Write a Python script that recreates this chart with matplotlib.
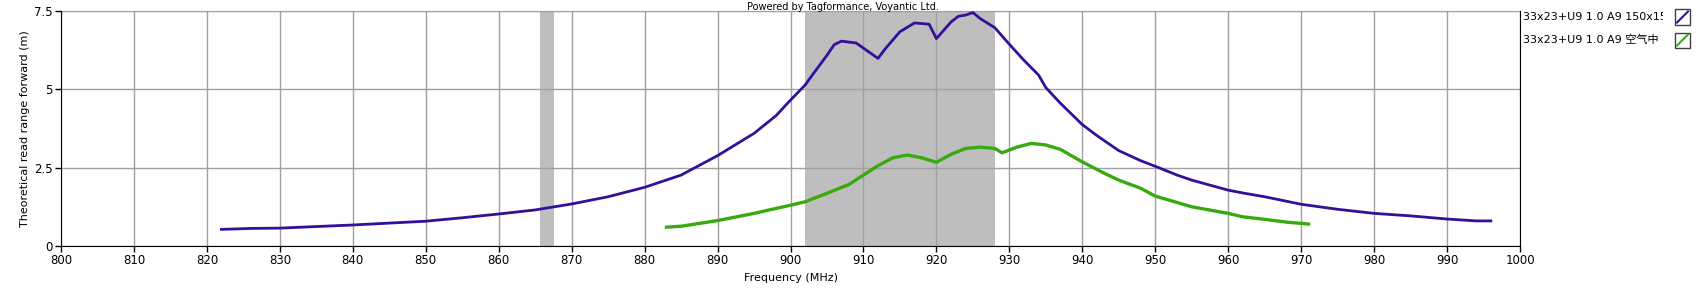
import matplotlib
matplotlib.use('Agg')
from matplotlib import pyplot as plt
from matplotlib.patches import Rectangle
from matplotlib.lines import Line2D
import matplotlib.transforms as mtransforms

plt.rcParams['font.family'] = ['DejaVu Sans', 'Noto Sans CJK SC']

# series 1: 33x23+U9 1.0 A9 150x150
freq_a = [822, 826, 830, 835, 840, 845, 850, 855, 860, 865, 870, 875, 880, 885,
          890, 895, 898, 900, 902, 903, 905, 906, 907, 909, 912, 913, 915, 917,
          919, 920, 922, 923, 924, 925, 926, 928, 930, 932, 934, 935, 937, 940,
          942, 945, 948, 950, 953, 955, 960, 962, 965, 970, 975, 980, 985, 990,
          994, 996]
range_a = [0.53, 0.56, 0.57, 0.62, 0.67, 0.73, 0.79, 0.90, 1.02, 1.15, 1.34, 1.57,
           1.87, 2.26, 2.88, 3.59, 4.15, 4.65, 5.13, 5.45, 6.08, 6.42, 6.53, 6.47,
           5.98, 6.29, 6.83, 7.11, 7.07, 6.61, 7.14, 7.32, 7.36, 7.44, 7.25, 6.96,
           6.43, 5.92, 5.45, 5.05, 4.55, 3.87, 3.52, 3.04, 2.72, 2.54, 2.26, 2.10,
           1.78, 1.69, 1.57, 1.33, 1.17, 1.04, 0.96, 0.86, 0.80, 0.80]

# series 2: 33x23+U9 1.0 A9 空气中
freq_b = [883, 885, 890, 895, 900, 902, 905, 908, 910, 912, 914, 916, 918, 920,
          922, 924, 926, 928, 929, 931, 933, 935, 937, 940, 943, 945, 948, 950,
          955, 960, 962, 965, 968, 971]
range_b = [0.60, 0.63, 0.81, 1.04, 1.30, 1.41, 1.68, 1.96, 2.26, 2.56, 2.81, 2.90,
           2.81, 2.67, 2.92, 3.11, 3.15, 3.11, 2.97, 3.15, 3.27, 3.22, 3.08, 2.68,
           2.32, 2.10, 1.84, 1.59, 1.25, 1.04, 0.93, 0.85, 0.76, 0.70]

labels = ['33x23+U9 1.0 A9 150x150', '33x23+U9 1.0 A9 空气中']
colors = ['#34109a', '#38aa10']
bands = [(865.6, 867.6), (902, 928)]

fig = plt.figure(figsize=(17.04, 2.98), dpi=100, facecolor='w')
ax = fig.add_axes([61/1704, 1-246/298, (1520-61)/1704, (246-10.7)/298])

for lo, hi in bands:
    ax.axvspan(lo, hi, color='#bebebe', lw=0, zorder=1)

ax.plot(freq_a, range_a, color=colors[0], lw=2.0, zorder=3)
ax.plot(freq_b, range_b, color=colors[1], lw=2.4, zorder=3)

ax.set_xlim(800, 1000)
ax.set_ylim(0, 7.5)
ax.set_xticks(range(800, 1001, 10))
ax.set_yticks([0, 2.5, 5, 7.5])
ax.set_yticklabels(['0', '2.5', '5', '7.5'])
ax.tick_params(labelsize=8.5, length=4, width=1, color='k', pad=2)
ax.grid(color='#a0a0a0', lw=1, zorder=2)
for g in ax.get_xgridlines() + ax.get_ygridlines():
    g.set_zorder(2)
ax.spines['top'].set_color('#a0a0a0')
for s in ['left', 'bottom', 'right']:
    ax.spines[s].set_zorder(4)

ax.set_xlabel('Frequency (MHz)', fontsize=8, labelpad=4)
ax.set_ylabel('Theoretical read range forward (m)', fontsize=8, labelpad=3)

fig.text(843/1704, 1-7/298, 'Powered by Tagformance, Voyantic Ltd.',
         fontsize=7, ha='center', va='center')

# legend at right, text clipped before the swatches
for i, (lab, col) in enumerate(zip(labels, colors)):
    yc = 1 - (17 + i*23)/298
    t = fig.text(1523/1704, yc, lab, fontsize=8, ha='left', va='center',
                 family=['DejaVu Sans', 'Noto Sans CJK SC'])
    t.set_clip_box(mtransforms.TransformedBbox(
        mtransforms.Bbox.from_extents(1521/1704, 0, 1663/1704, 1), fig.transFigure))
    t.set_clip_on(True)
    x0, x1 = 1675/1704, 1690/1704
    y0, y1 = yc - 7.5/298, yc + 7.5/298
    fig.add_artist(Rectangle((x0, y0), x1-x0, y1-y0, transform=fig.transFigure,
                             fill=False, ec='#404040', lw=1))
    fig.add_artist(Line2D([x0 + 2/1704, x1 - 2/1704], [y0 + 2/298, y1 - 2/298],
                          transform=fig.transFigure, color=col, lw=1.5))

fig.savefig('out.png', dpi=100, facecolor='w')
